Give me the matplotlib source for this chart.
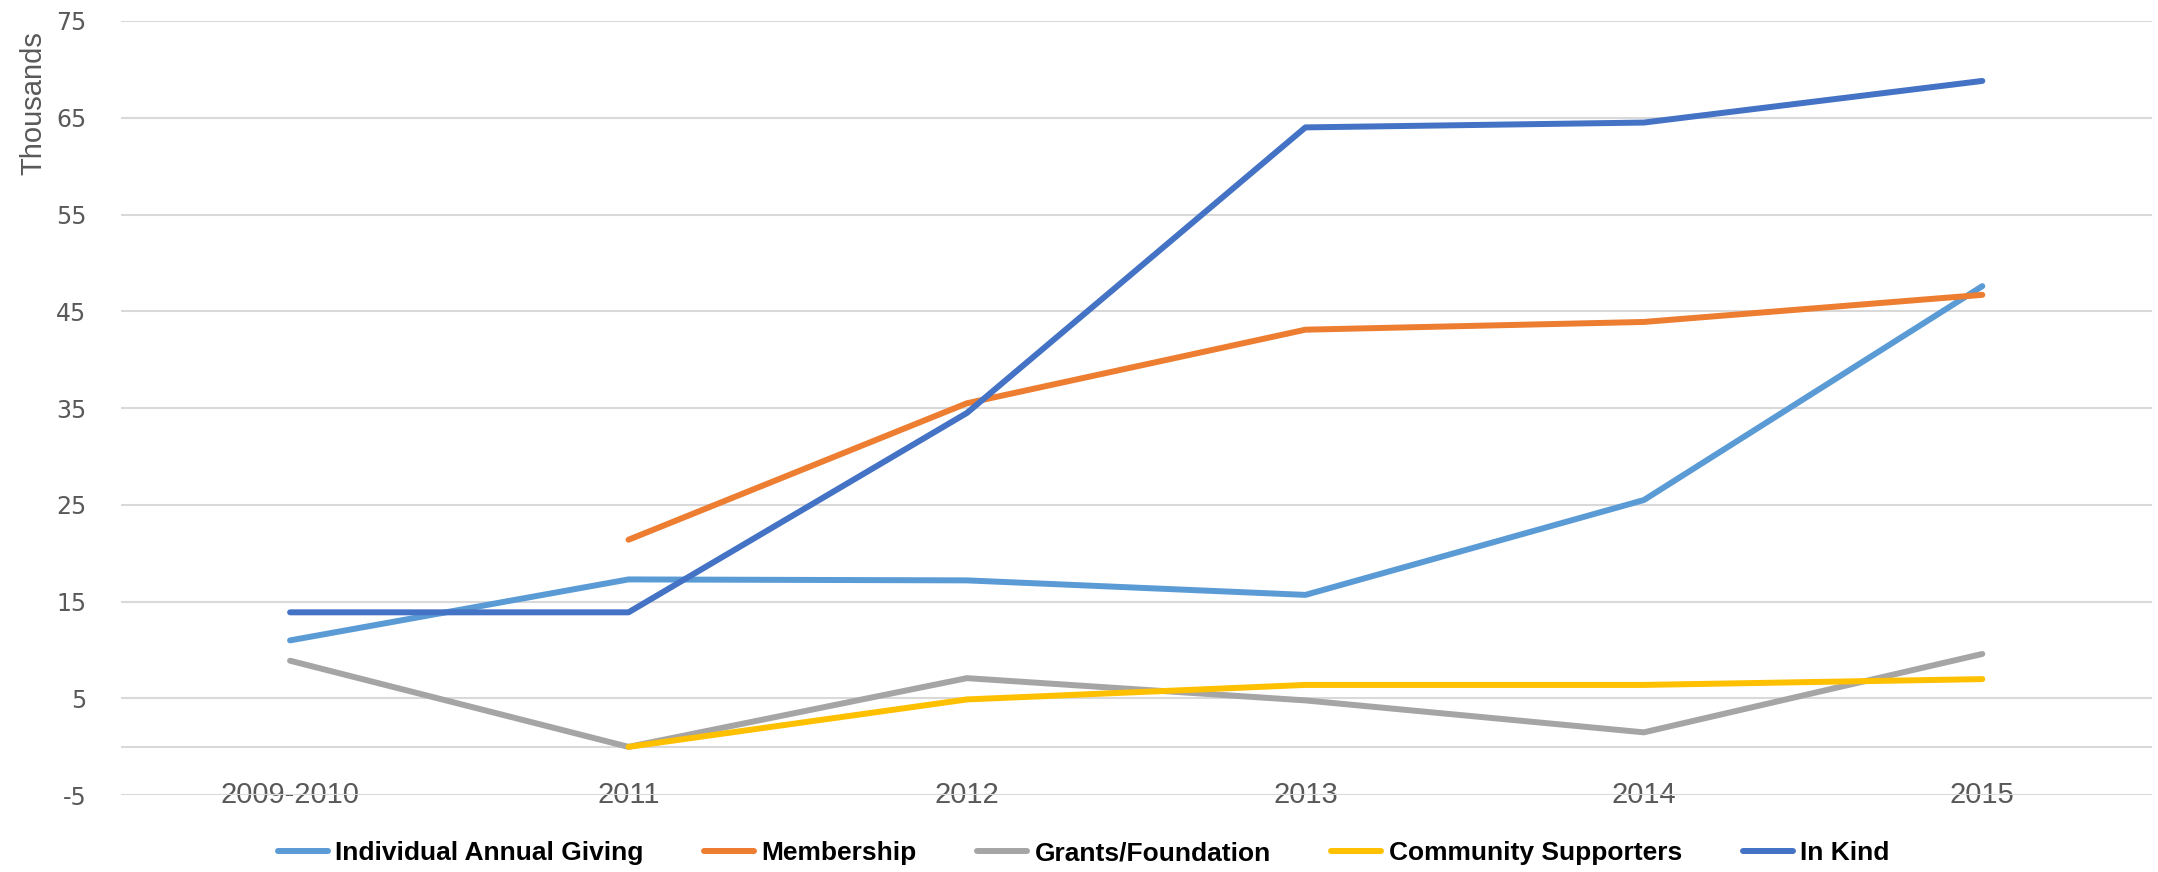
import matplotlib.pyplot as plt
import numpy as np

plt.rcParams['font.family'] = ['Liberation Sans', 'DejaVu Sans']
plt.rcParams['axes.unicode_minus'] = False  # 마이너스 표시

# 데이터 (단위: 천)
years = ['2009-2010', '2011', '2012', '2013', '2014', '2015']
individual = [11.0, 17.3, 17.2, 15.7, 25.5, 47.6]
membership = [np.nan, 21.4, 35.5, 43.1, 43.9, 46.7]
grants = [8.9, 0.0, 7.1, 4.8, 1.5, 9.6]
community = [np.nan, 0.0, 4.9, 6.4, 6.4, 7.0]
in_kind = [13.9, 13.9, 34.5, 64.0, 64.5, 68.8]
y_ticks = [-5, 5, 15, 25, 35, 45, 55, 65, 75]

names = ['Individual Annual Giving', 'Membership', 'Grants/Foundation',
         'Community Supporters', 'In Kind']
colors = ['#5B9BD5', '#ED7D31', '#A5A5A5', '#FFC000', '#4472C4']
series = [individual, membership, grants, community, in_kind]

fig = plt.figure(figsize=(21.58, 8.72), dpi=100)
ax = fig.add_axes([0.056, 0.088, 0.941, 0.888])

x = np.arange(len(years))
for s, c, n in zip(series, colors, names):
    ax.plot(x, s, color=c, lw=4.3, label=n, solid_capstyle='round', solid_joinstyle='round', zorder=3)

ax.set_xlim(-0.5, 5.5)
ax.set_ylim(-5, 75)
ax.set_yticks(y_ticks)
ax.set_yticklabels([str(v) for v in y_ticks], family='DejaVu Sans', fontsize=17)
ax.set_xticks(x)
ax.set_xticklabels(years, family='Liberation Sans', fontsize=21, va='center')
ax.grid(axis='y', color='#D9D9D9', lw=1.5, zorder=0)
ax.axhline(0, color='#D9D9D9', lw=1.5, zorder=0)
for sp in ax.spines.values():
    sp.set_visible(False)

ax.tick_params(axis='x', length=0, pad=0, labelcolor='#595959')
ax.tick_params(axis='y', length=0, pad=25, labelcolor='#595959')

ax.set_ylabel('Thousands', fontsize=21, color='#595959')
ax.yaxis.set_label_coords(-0.036, 0.894)

leg = ax.legend(loc='center', bbox_to_anchor=(0.474, -0.075), ncol=5, frameon=False,
                handlelength=1.9, handletextpad=0.27, columnspacing=2.3,
                prop={'family': 'Liberation Sans', 'weight': 'bold', 'size': 19})
leg._legend_handle_box.align = 'top'  # 범례 글자 높이 맞추기

plt.savefig('out.png', dpi=100)
